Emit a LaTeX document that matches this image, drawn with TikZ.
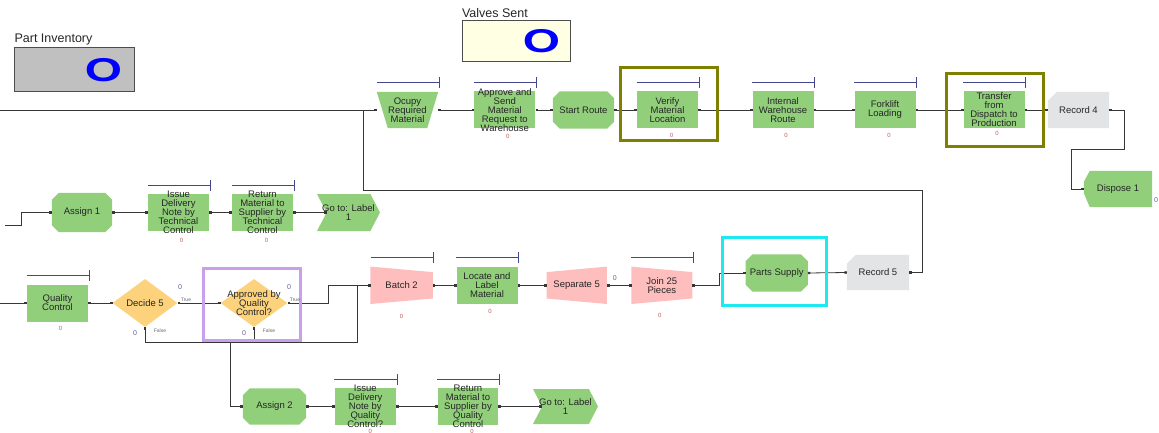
\documentclass[tikz,border=0pt]{standalone}
\usepackage{fontspec}
\setmainfont{Liberation Sans}
\usetikzlibrary{shapes.geometric,shapes.symbols,arrows.meta}
\pgfdeclarelayer{background}
\pgfsetlayers{background,main}
\definecolor{procGreen}{RGB}{145,207,123}
\definecolor{batchPink}{RGB}{255,190,190}
\definecolor{decYellow}{RGB}{252,211,124}
\definecolor{recGray}{RGB}{227,228,230}
\definecolor{dispGray}{RGB}{192,192,192}
\definecolor{dispYellow}{RGB}{255,255,228}
\definecolor{lineGray}{RGB}{55,55,55}
\definecolor{barBlue}{RGB}{70,70,140}
\definecolor{cntRed}{RGB}{190,95,95}
\definecolor{cntBlue}{RGB}{95,95,150}
\definecolor{frOlive}{RGB}{128,128,0}
\definecolor{frPurple}{RGB}{200,160,238}
\definecolor{frCyan}{RGB}{30,232,240}

\tikzset{
  modtxt/.style={font=\fontsize{9.5}{9}\selectfont, align=center, inner sep=0pt, text=black!85},
  procbox/.style={rectangle, fill=procGreen, minimum width=61, minimum height=37, inner sep=0pt},
  shapebox/.style={rectangle, minimum width=61, minimum height=37, inner sep=0pt},
  gotobox/.style={signal, signal to=east, signal from=west, signal pointer angle=125, fill=procGreen, minimum width=63, minimum height=37, inner sep=0pt},
  decbox/.style={diamond, fill=decYellow, minimum width=65, minimum height=48, inner sep=0pt},
  dispbox/.style={rectangle, draw=black!70, minimum width=120, minimum height=44, inner sep=0pt},
  disptxt/.style={font=\fontsize{12.5}{13}\selectfont, inner xsep=0pt, inner ysep=2pt, text=black!85},
  bigO/.style={font=\bfseries\fontsize{33}{33}\selectfont, text=blue, inner sep=0pt},
  frame/.style={rectangle, line width=3pt, inner sep=0pt},
  conn/.style={draw=lineGray, line width=0.8pt, {Square[length=2.4pt]}-{Square[length=2.4pt]}},
  feed/.style={draw=lineGray, line width=0.8pt, -{Square[length=2.4pt]}},
  resbar/.style={draw=barBlue, line width=0.7pt, -{Bar[width=11pt]}},
  cnt/.style={font=\fontsize{6}{6}\selectfont, text=cntRed, inner sep=0pt},
  dcnt/.style={font=\fontsize{7}{7}\selectfont, text=cntBlue, inner sep=0pt},
  tftxt/.style={font=\fontsize{5}{5}\selectfont, text=black!60, inner sep=0pt}
}

\begin{document}
\begin{tikzpicture}[x=1pt, y=-1pt]
  \begin{pgfonlayer}{background}
    \fill[white] (0,0) rectangle (1159,433);
  \end{pgfonlayer}
  \useasboundingbox (0,0) rectangle (1159,433);
  % Anzeigen
  \node[dispbox, fill=dispGray, minimum width=120, minimum height=44, label={[disptxt, anchor=south west]north west:Part Inventory}] (pinv) at (74.6,69) {};
  \node[bigO] (pinv-val) at (103.5,70.5) {\scalebox{1.45}[1]{O}};
  \node[dispbox, fill=dispYellow, minimum width=108, minimum height=41, label={[disptxt, anchor=south west]north west:Valves Sent}] (vsent) at (516,40.5) {};
  \node[bigO] (vsent-val) at (541.5,41) {\scalebox{1.45}[1]{O}};
  % Zeile 1
  \node[shapebox, minimum height=36, label={[modtxt]center:{Ocupy\\Required\\Material}}] (oc) at (407.5,110) {};
  \node[procbox, label={[modtxt]center:{Approve and\\Send\\Material\\Request to\\Warehouse}}] (ap) at (504.8,110) {};
  \node[shapebox, label={[modtxt]center:Start Route}] (sr) at (583.5,110) {};
  \node[procbox, label={[modtxt]center:{Verify\\Material\\Location}}] (vml) at (667.5,110) {};
  \node[procbox, label={[modtxt]center:{Internal\\Warehouse\\Route}}] (iwr) at (783,110) {};
  \node[procbox, label={[modtxt]center:{Forklift\\Loading}}] (fl) at (885,110) {};
  \node[procbox, label={[modtxt]center:{Transfer\\from\\Dispatch to\\Production}}] (tdp) at (994,110) {};
  \node[shapebox, minimum height=36, label={[modtxt]center:Record 4}] (r4) at (1078.5,110) {};
  \node[shapebox, minimum width=68, minimum height=36, label={[modtxt]center:Dispose 1}] (dp1) at (1118,189) {};
  % Zeile 2
  \node[shapebox, minimum width=60, minimum height=39, label={[modtxt]center:Assign 1}] (as1) at (82,212.5) {};
  \node[procbox, label={[modtxt]center:{Issue\\Delivery\\Note by\\Technical\\Control}}] (idt) at (178.5,212.5) {};
  \node[procbox, label={[modtxt]center:{Return\\Material to\\Supplier by\\Technical\\Control}}] (rmt) at (262.5,212.5) {};
  \node[gotobox, label={[modtxt]center:{Go to: Label\\1}}] (gt1) at (348.5,212.5) {};
  % Zeile 3
  \node[procbox, label={[modtxt]center:{Quality\\Control}}] (qc) at (57.5,303) {};
  \node[decbox, label={[modtxt]center:Decide 5}] (d5) at (145,303) {};
  \node[decbox, minimum width=67, label={[modtxt]center:{Approved by\\Quality\\Control?}}] (aq) at (254,303) {};
  \node[shapebox, minimum width=62, label={[modtxt]center:Batch 2}] (b2) at (401.6,285.3) {};
  \node[procbox, minimum height=36.5, label={[modtxt]center:{Locate and\\Label\\Material}}] (lal) at (487,285.3) {};
  \node[shapebox, minimum width=60, label={[modtxt]center:Separate 5}] (s5) at (576.7,285.3) {};
  \node[shapebox, minimum width=60.5, label={[modtxt]center:{Join 25\\Pieces}}] (j25) at (661.8,285.3) {};
  \node[shapebox, minimum width=62, label={[modtxt]center:Parts Supply}] (ps) at (776.7,273) {};
  \node[shapebox, minimum width=62, minimum height=35, label={[modtxt]center:Record 5}] (r5) at (878,272.5) {};
  % Zeile 4
  \node[shapebox, minimum width=63, minimum height=36, label={[modtxt]center:Assign 2}] (as2) at (274.5,406.5) {};
  \node[procbox, label={[modtxt]center:{Issue\\Delivery\\Note by\\Quality\\Control?}}] (idq) at (365.3,406.5) {};
  \node[procbox, minimum width=60, label={[modtxt]center:{Return\\Material to\\Supplier by\\Quality\\Control}}] (rmq) at (468,406.5) {};
  \node[gotobox, minimum width=65, minimum height=35, label={[modtxt]center:{Go to: Label\\1}}] (gt2) at (565.5,406.5) {};
  % Formen
  \begin{pgfonlayer}{background}
    \fill[procGreen] (oc.north west) -- (oc.north east) -- ([xshift=-11pt]oc.south east) -- ([xshift=11pt]oc.south west) -- cycle;
    \foreach \n in {b2,j25} {
      \fill[batchPink] (\n.north west) -- ([yshift=-5.5pt]\n.north east) -- ([yshift=5.5pt]\n.south east) -- (\n.south west) -- cycle;
    }
    \fill[batchPink] ([yshift=-5.5pt]s5.north west) -- (s5.north east) -- (s5.south east) -- ([yshift=5.5pt]s5.south west) -- cycle;
    \foreach \n in {sr,as1,ps,as2} {
      \fill[procGreen] ([xshift=7pt]\n.north west) -- ([xshift=-7pt]\n.north east) -- ([yshift=-7pt]\n.north east)
        -- ([yshift=7pt]\n.south east) -- ([xshift=-7pt]\n.south east) -- ([xshift=7pt]\n.south west)
        -- ([yshift=7pt]\n.south west) -- ([yshift=-7pt]\n.north west) -- cycle;
    }
    \foreach \n in {r4,r5} {
      \fill[recGray] ([xshift=9pt]\n.north west) -- (\n.north east) -- (\n.south east) -- (\n.south west) -- ([yshift=-9pt]\n.north west) -- cycle;
    }
    \fill[procGreen] ([xshift=6pt]dp1.north west) -- (dp1.north east) -- (dp1.south east) -- ([xshift=6pt]dp1.south west)
      -- ([yshift=14pt]dp1.south west) -- ([yshift=-11pt]dp1.north west) -- cycle;
  \end{pgfonlayer}
  % Ressourcen
  \foreach \n in {oc,ap,vml,iwr,fl,tdp,idt,rmt,qc,b2,lal,j25,idq,rmq} {
    \draw[resbar] ([shift={(-31pt,27.5pt)}]\n.center) -- ++(63pt,0pt);
  }
  % Verbindungen
  \coordinate (inTop) at (0,110);
  \coordinate (inMid) at (5,225);
  \coordinate (inLow) at (0,303);
  \draw[feed] (inTop) -- (oc.west);
  \draw[feed] (inMid) -- (21,225) |- (as1.west);
  \draw[feed] (inLow) -- (qc.west);
  \foreach \a/\b in {oc/ap, ap/sr, sr/vml, vml/iwr, iwr/fl, fl/tdp, tdp/r4,
                     as1/idt, idt/rmt, rmt/gt1, qc/d5, d5/aq,
                     b2/lal, lal/s5, s5/j25, ps/r5, as2/idq, idq/rmq, rmq/gt2} {
    \draw[conn] (\a.east) -- (\b.west);
  }
  \draw[conn] (r4.east) -- (1124,110) |- (1071,149) |- (dp1.west);
  \draw[conn] (aq.east) -- (328,303) |- (b2.west);
  \draw[conn] (d5.south) |- (357,342) |- (b2.west);
  \draw[conn] (aq.south) |- (230,342) |- (as2.west);
  \draw[conn] (j25.east) -- (719,285.3) |- (ps.west);
  \draw[conn] (r5.east) -| (922,190) -| (363,110) -- (oc.west);
  % Rahmen
  \node[frame, draw=frOlive, minimum width=97, minimum height=73] (vml-fr) at (668.5,104.5) {};
  \node[frame, draw=frOlive, minimum width=97, minimum height=73] (tdp-fr) at (994.5,110.5) {};
  \node[frame, draw=frPurple, minimum width=97, minimum height=72] (aq-fr) at (252,304) {};
  \node[frame, draw=frCyan, minimum width=104, minimum height=68] (ps-fr) at (774,271) {};
  % Zaehler
  \foreach \n/\dx/\dy in {ap/3pt/-26pt, vml/4pt/-25pt, iwr/3pt/-25pt, fl/4pt/-25pt, tdp/3pt/-23pt,
                          idt/3pt/-27.5pt, rmt/4pt/-27.5pt, qc/3pt/-25.5pt, b2/0pt/-31pt,
                          lal/3pt/-26.5pt, j25/-2pt/-30.5pt, idq/5pt/-25pt, rmq/4pt/-25pt} {
    \node[cnt] (\n-cnt) at ([shift={(\dx,\dy)}]\n.center) {0};
  }
  \foreach \n in {d5,aq} {
    \node[dcnt] (\n-t0) at ([shift={(35pt,16pt)}]\n.center) {0};
    \node[tftxt] (\n-t) at ([shift={(41pt,3pt)}]\n.center) {True};
    \node[dcnt] (\n-f0) at ([shift={(-10pt,-30pt)}]\n.center) {0};
    \node[tftxt] (\n-f) at ([shift={(15pt,-28pt)}]\n.center) {False};
  }
  \node[dcnt] (s5-cnt) at ([shift={(38pt,7pt)}]s5.center) {0};
  \node[dcnt] (dp1-cnt) at ([shift={(38pt,-11pt)}]dp1.center) {0};
\end{tikzpicture}
\end{document}
